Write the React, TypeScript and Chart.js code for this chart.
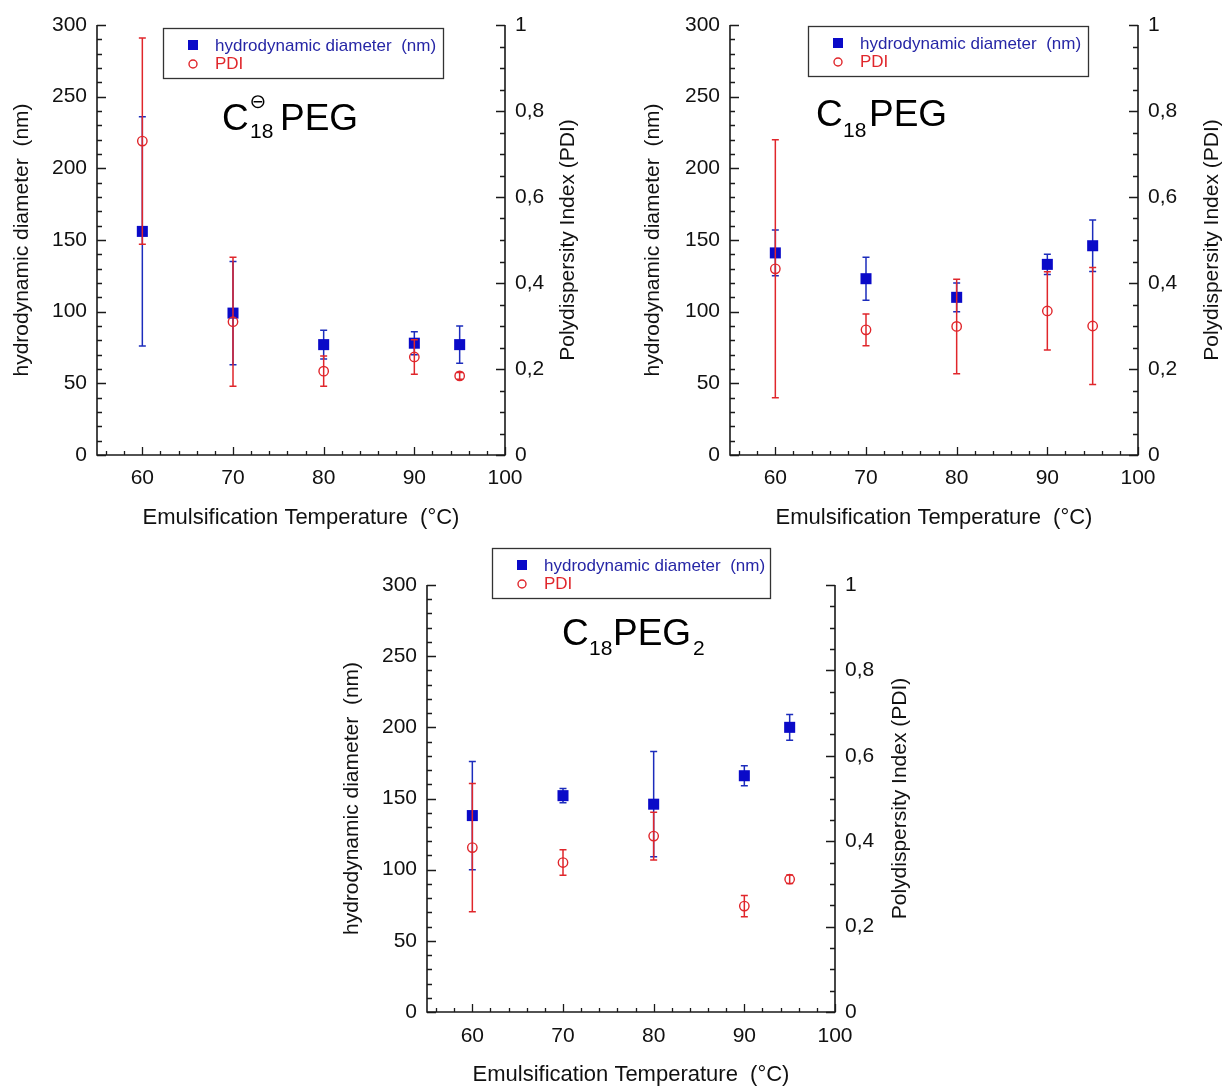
import React, { useEffect, useRef } from 'react';
import { Chart, registerables } from 'chart.js';

Chart.register(...registerables);

// ---------- data ----------
const TEMPERATURES = [60, 70, 80, 90, 95];

// C18(-)PEG
const DIAMETER_A = [156, 99, 77, 78, 77];
const DIAMETER_A_ERR = [80, 36, 10, 8, 13];
const PDI_A = [0.73, 0.31, 0.195, 0.228, 0.184];
const PDI_A_ERR = [0.24, 0.15, 0.035, 0.04, 0.008];

// C18PEG
const DIAMETER_B = [141, 123, 110, 133, 146];
const DIAMETER_B_ERR = [16, 15, 10, 7, 18];
const PDI_B = [0.433, 0.291, 0.299, 0.335, 0.3];
const PDI_B_ERR = [0.3, 0.037, 0.11, 0.091, 0.136];

// C18PEG2
const DIAMETER_C = [138, 152, 146, 166, 200];
const DIAMETER_C_ERR = [38, 5, 37, 7, 9];
const PDI_C = [0.385, 0.35, 0.412, 0.248, 0.311];
const PDI_C_ERR = [0.15, 0.03, 0.056, 0.025, 0.01];

// ticks
const X_TICKS = [56, 58, 60, 62, 64, 66, 68, 70, 72, 74, 76, 78, 80, 82, 84, 86, 88, 90, 92, 94, 96, 98, 100];
const X_LABELS = [60, 70, 80, 90, 100];
const Y_TICKS = Array.from({ length: 31 }, (_, i) => i * 10);
const Y_LABELS = [0, 50, 100, 150, 200, 250, 300];
const PDI_TICKS = Array.from({ length: 21 }, (_, i) => Math.round(i * 5) / 100);
const PDI_LABELS = [0, 0.2, 0.4, 0.6, 0.8, 1];

const LEGEND_DIAMETER = 'hydrodynamic diameter  (nm)';
const LEGEND_PDI = 'PDI';
const Y_TITLE = 'hydrodynamic diameter  (nm)';
const Y1_TITLE = 'Polydispersity Index (PDI)';
const X_TITLE = 'Emulsification Temperature  (°C)';

// ---------- styles ----------
const FONT = '"Liberation Sans", Arial, Helvetica, sans-serif';
const BLUE = '#0a0ac8';
const BLUE_TEXT = '#2626a6';
const RED = '#e0262b';
const AXIS = '#1a1a1a';

type Seg = { text: string; x: number; y: number; size: number; family?: string; align?: CanvasTextAlign; baseline?: CanvasTextBaseline };

type PanelCfg = {
  left: number;
  top: number;
  width: number;
  height: number;
  area: { left: number; right: number; top: number; bottom: number };
  yTitlePad: number;
  xTitlePad: number;
  xLabelPad: number;
  rightTitleX: number;
  legend: { x: number; y: number; w: number; h: number };
  title: Seg[];
  diameter: number[];
  diameterErr: number[];
  pdi: number[];
  pdiErr: number[];
};

const PANELS: PanelCfg[] = [
  {
    left: 0, top: 0, width: 610, height: 540,
    area: { left: 97, right: 505, top: 25, bottom: 455 },
    yTitlePad: 12, xTitlePad: 11, xLabelPad: 11, rightTitleX: 568,
    legend: { x: 163, y: 28, w: 280, h: 50 },
    title: [
      { text: 'C', x: 222, y: 130, size: 37 },
      { text: '18', x: 250, y: 138, size: 21 },
      { text: '\u2296', x: 258, y: 103, size: 20, family: '"DejaVu Sans", sans-serif', align: 'center', baseline: 'middle' },
      { text: 'PEG', x: 280, y: 130, size: 37 },
    ],
    diameter: DIAMETER_A, diameterErr: DIAMETER_A_ERR, pdi: PDI_A, pdiErr: PDI_A_ERR,
  },
  {
    left: 612, top: 0, width: 611, height: 540,
    area: { left: 118, right: 526, top: 25, bottom: 455 },
    yTitlePad: 30.5, xTitlePad: 11, xLabelPad: 11, rightTitleX: 600,
    legend: { x: 196, y: 26, w: 280, h: 50 },
    title: [
      { text: 'C', x: 204, y: 126, size: 37 },
      { text: '18', x: 231, y: 137, size: 21 },
      { text: 'PEG', x: 257, y: 126, size: 37 },
    ],
    diameter: DIAMETER_B, diameterErr: DIAMETER_B_ERR, pdi: PDI_B, pdiErr: PDI_B_ERR,
  },
  {
    left: 310, top: 540, width: 620, height: 546,
    area: { left: 117, right: 525, top: 45, bottom: 472 },
    yTitlePad: 31.5, xTitlePad: 0, xLabelPad: 12, rightTitleX: 590,
    legend: { x: 182, y: 8, w: 278, h: 50 },
    title: [
      { text: 'C', x: 252, y: 105, size: 37 },
      { text: '18', x: 279, y: 115, size: 21 },
      { text: 'PEG', x: 303, y: 105, size: 37 },
      { text: '2', x: 383, y: 115, size: 21 },
    ],
    diameter: DIAMETER_C, diameterErr: DIAMETER_C_ERR, pdi: PDI_C, pdiErr: PDI_C_ERR,
  },
];

// ---------- plugins ----------
const errorBarPlugin = {
  id: 'errorBars',
  beforeDatasetDraw(chart: any, args: any) {
    const ds = chart.data.datasets[args.index];
    const errs: number[] | undefined = ds.errors;
    if (!errs) return;
    const xs = chart.scales.x;
    const ys = chart.scales[ds.yAxisID];
    const ctx = chart.ctx;
    ctx.save();
    ctx.strokeStyle = ds.errorColor;
    ctx.lineWidth = 1.5;
    ctx.beginPath();
    ds.data.forEach((p: any, i: number) => {
      const x = xs.getPixelForValue(p.x);
      const yT = ys.getPixelForValue(p.y + errs[i]);
      const yB = ys.getPixelForValue(p.y - errs[i]);
      ctx.moveTo(x, yT);
      ctx.lineTo(x, yB);
      ctx.moveTo(x - 3.5, yT);
      ctx.lineTo(x + 3.5, yT);
      ctx.moveTo(x - 3.5, yB);
      ctx.lineTo(x + 3.5, yB);
    });
    ctx.stroke();
    ctx.restore();
  },
};

const axesPlugin = {
  id: 'inwardAxes',
  beforeDatasetsDraw(chart: any) {
    const { ctx, chartArea: a, scales } = chart;
    ctx.save();
    ctx.strokeStyle = AXIS;
    ctx.lineWidth = 1.3;
    ctx.beginPath();
    for (const v of X_TICKS) {
      const px = Math.round(scales.x.getPixelForValue(v)) + 0.5;
      const len = X_LABELS.includes(v) ? 8 : 4;
      ctx.moveTo(px, a.bottom);
      ctx.lineTo(px, a.bottom - len);
    }
    for (const v of Y_TICKS) {
      const py = Math.round(scales.y.getPixelForValue(v)) + 0.5;
      const len = Y_LABELS.includes(v) ? 9 : 5;
      ctx.moveTo(a.left, py);
      ctx.lineTo(a.left + len, py);
    }
    for (const v of PDI_TICKS) {
      const py = Math.round(scales.y1.getPixelForValue(v)) + 0.5;
      const len = PDI_LABELS.some((l) => Math.abs(l - v) < 1e-6) ? 9 : 5;
      ctx.moveTo(a.right, py);
      ctx.lineTo(a.right - len, py);
    }
    ctx.stroke();
    ctx.lineWidth = 1.6;
    ctx.beginPath();
    ctx.moveTo(a.left, a.top);
    ctx.lineTo(a.left, a.bottom);
    ctx.lineTo(a.right, a.bottom);
    ctx.lineTo(a.right, a.top);
    ctx.stroke();
    ctx.restore();
  },
};

function makeDecorPlugin(cfg: PanelCfg) {
  return {
    id: 'decor',
    afterDraw(chart: any) {
      const { ctx, chartArea: a } = chart;
      ctx.save();
      // right axis title (reads bottom to top)
      ctx.translate(cfg.rightTitleX, (a.top + a.bottom) / 2);
      ctx.rotate(-Math.PI / 2);
      ctx.font = `21px ${FONT}`;
      ctx.fillStyle = '#111';
      ctx.textAlign = 'center';
      ctx.textBaseline = 'middle';
      ctx.fillText(Y1_TITLE, 0, 0);
      ctx.restore();

      // legend
      const L = cfg.legend;
      ctx.save();
      ctx.fillStyle = '#fff';
      ctx.fillRect(L.x, L.y, L.w, L.h);
      ctx.strokeStyle = '#333';
      ctx.lineWidth = 1.3;
      ctx.strokeRect(L.x + 0.5, L.y + 0.5, L.w, L.h);
      ctx.fillStyle = BLUE;
      ctx.fillRect(L.x + 25, L.y + 12, 10, 10);
      ctx.strokeStyle = RED;
      ctx.lineWidth = 1.4;
      ctx.beginPath();
      ctx.arc(L.x + 30, L.y + 36, 4, 0, Math.PI * 2);
      ctx.stroke();
      ctx.font = `17px ${FONT}`;
      ctx.textAlign = 'left';
      ctx.textBaseline = 'alphabetic';
      ctx.fillStyle = BLUE_TEXT;
      ctx.fillText(LEGEND_DIAMETER, L.x + 52, L.y + 23);
      ctx.fillStyle = RED;
      ctx.fillText(LEGEND_PDI, L.x + 52, L.y + 41);
      ctx.restore();

      // compound name
      ctx.save();
      ctx.fillStyle = '#000';
      for (const s of cfg.title) {
        ctx.font = `${s.size}px ${s.family || FONT}`;
        ctx.textAlign = s.align || 'left';
        ctx.textBaseline = s.baseline || 'alphabetic';
        ctx.fillText(s.text, s.x, s.y);
      }
      ctx.restore();
    },
  };
}

const fmtComma = (v: number) => String(Math.round(v * 10) / 10).replace('.', ',');

function Panel({ cfg }: { cfg: PanelCfg }) {
  const ref = useRef<HTMLCanvasElement>(null);
  useEffect(() => {
    if (!ref.current) return;
    const tickFont = { family: FONT, size: 21 };
    const chart = new Chart(ref.current, {
      type: 'scatter',
      data: {
        datasets: [
          {
            label: LEGEND_PDI,
            data: TEMPERATURES.map((t, i) => ({ x: t, y: cfg.pdi[i] })),
            yAxisID: 'y1',
            pointStyle: 'circle',
            pointRadius: 4.7,
            borderColor: RED,
            backgroundColor: 'rgba(0,0,0,0)',
            borderWidth: 1.4,
            order: 1,
            errors: cfg.pdiErr,
            errorColor: RED,
          } as any,
          {
            label: LEGEND_DIAMETER,
            data: TEMPERATURES.map((t, i) => ({ x: t, y: cfg.diameter[i] })),
            yAxisID: 'y',
            pointStyle: 'rect',
            pointRadius: 7.8,
            borderColor: BLUE,
            backgroundColor: BLUE,
            borderWidth: 0,
            order: 2,
            errors: cfg.diameterErr,
            errorColor: '#1c2cbc',
          } as any,
        ],
      },
      options: {
        responsive: false,
        animation: false,
        events: [],
        layout: { padding: { top: cfg.area.top, left: 0, right: 0, bottom: 0 } },
        plugins: {
          legend: { display: false },
          tooltip: { enabled: false },
          title: { display: false },
        },
        scales: {
          x: {
            type: 'linear',
            min: 55,
            max: 100,
            afterBuildTicks: (s: any) => {
              s.ticks = X_TICKS.map((v) => ({ value: v }));
            },
            afterFit: (s: any) => {
              s.height = cfg.height - cfg.area.bottom;
            },
            ticks: {
              autoSkip: false,
              maxRotation: 0,
              minRotation: 0,
              padding: cfg.xLabelPad,
              color: '#111',
              font: tickFont,
              callback: (v: any) => (X_LABELS.includes(Number(v)) ? String(v) : ''),
            },
            grid: { display: false, drawTicks: false },
            border: { display: false },
            title: {
              display: true,
              text: X_TITLE,
              color: '#111',
              font: { family: FONT, size: 22, lineHeight: 1 },
              padding: { top: 0, bottom: cfg.xTitlePad },
            },
          },
          y: {
            type: 'linear',
            position: 'left',
            min: 0,
            max: 300,
            afterBuildTicks: (s: any) => {
              s.ticks = Y_TICKS.map((v) => ({ value: v }));
            },
            afterFit: (s: any) => {
              s.width = cfg.area.left;
            },
            ticks: {
              autoSkip: false,
              padding: 10,
              color: '#111',
              font: tickFont,
              callback: (v: any) => (Y_LABELS.includes(Number(v)) ? String(v) : ''),
            },
            grid: { display: false, drawTicks: false },
            border: { display: false },
            title: {
              display: true,
              text: Y_TITLE,
              color: '#111',
              font: { family: FONT, size: 21, lineHeight: 1 },
              padding: { top: cfg.yTitlePad, bottom: 0 },
            },
          },
          y1: {
            type: 'linear',
            position: 'right',
            min: 0,
            max: 1,
            afterBuildTicks: (s: any) => {
              s.ticks = PDI_TICKS.map((v) => ({ value: v }));
            },
            afterFit: (s: any) => {
              s.width = cfg.width - cfg.area.right;
            },
            ticks: {
              autoSkip: false,
              padding: 10,
              color: '#111',
              font: tickFont,
              callback: (v: any) =>
                PDI_LABELS.some((l) => Math.abs(l - Number(v)) < 1e-6) ? fmtComma(Number(v)) : '',
            },
            grid: { display: false, drawTicks: false },
            border: { display: false },
          },
        },
      } as any,
      plugins: [axesPlugin, errorBarPlugin, makeDecorPlugin(cfg)],
    });
    return () => chart.destroy();
  }, [cfg]);
  return (
    <canvas
      ref={ref}
      width={cfg.width}
      height={cfg.height}
      style={{ position: 'absolute', left: cfg.left, top: cfg.top, width: cfg.width, height: cfg.height }}
    />
  );
}

export default function App() {
  return (
    <div style={{ position: 'absolute', left: 0, top: 0, width: 1223, height: 1086, background: '#fff', overflow: 'hidden' }}>
      {PANELS.map((p, i) => (
        <Panel key={i} cfg={p} />
      ))}
    </div>
  );
}
